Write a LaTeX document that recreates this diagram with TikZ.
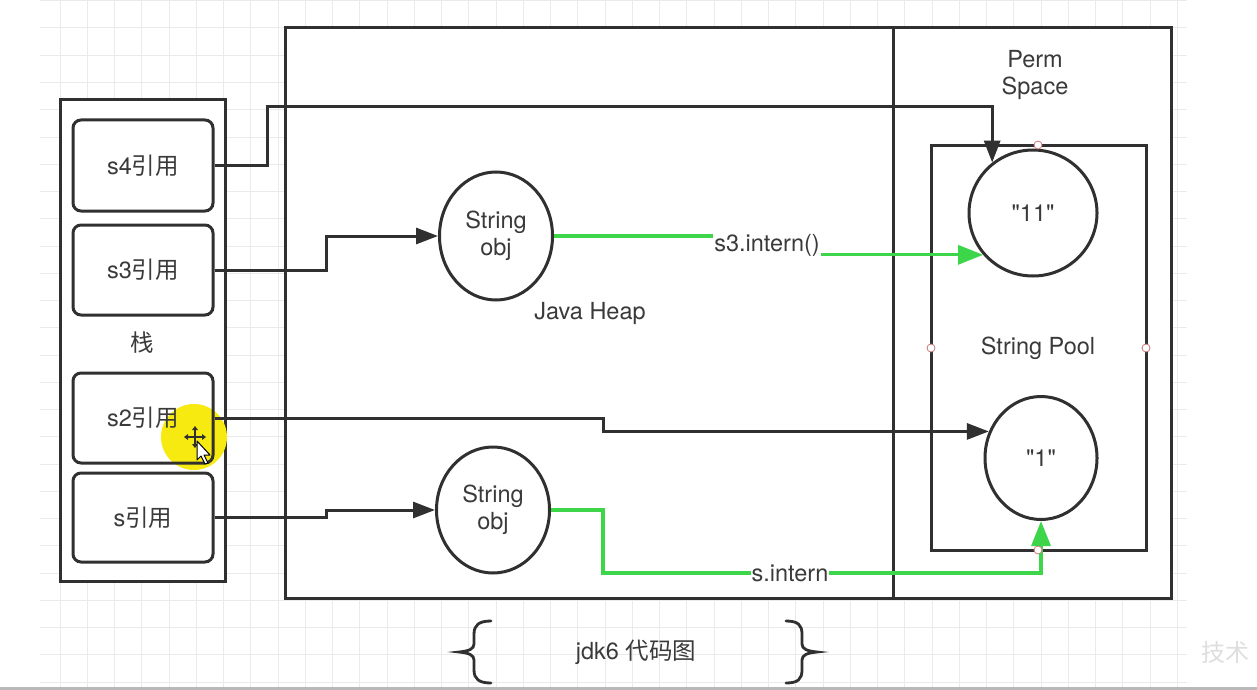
\documentclass[tikz,border=0pt]{standalone}
\usepackage{fontspec}
\setmainfont{TeX Gyre Heros}[Ligatures=TeXOff]
\newfontfamily\cjk{Noto Sans CJK SC}
\usetikzlibrary{arrows.meta,shapes.geometric,calc}
\definecolor{ink}{HTML}{303030}
\definecolor{txt}{HTML}{3A3A3A}
\definecolor{grn}{HTML}{3DD64A}
\definecolor{gridc}{HTML}{EAEAEA}
\definecolor{pinkc}{HTML}{C87878}
\definecolor{hl}{HTML}{F7EA10}
\newcommand\dfont{\fontsize{23.5}{27}\selectfont}
\begin{document}
\begin{tikzpicture}[x=1pt,y=-1pt,
  area/.style={draw=ink, line width=3pt, fill=white, inner sep=0pt},
  refbox/.style={draw=ink, line width=3pt, rounded corners=8pt, minimum width=140pt, minimum height=90pt, inner sep=0pt, font=\dfont, text=txt},
  blob/.style={ellipse, draw=ink, line width=3pt, inner sep=0pt, font=\dfont, text=txt, align=center},
  conn/.style={draw=ink, line width=3pt, -{Triangle[length=22pt,width=16pt]}},
  gconn/.style={draw=grn, line width=3.2pt, -{Triangle[length=25pt,width=19pt]}},
  glabel/.style={fill=white, inner sep=1pt, font=\dfont, text=txt},
  txtlbl/.style={font=\dfont, text=txt, align=center},
  port/.style={circle, draw=pinkc, fill=white, line width=0.8pt, minimum size=8pt, inner sep=0pt},
  brace/.style={draw=ink, line width=2.8pt, line cap=round}]
\useasboundingbox (0,0) rectangle (1257,690);
\fill[white] (0,0) rectangle (1257,690);
% grid
\foreach \k in {0,...,41} \draw[gridc, line width=1pt] ({60+27.25*\k},0) -- ({60+27.25*\k},687);
\foreach \k in {-1,...,24} \draw[gridc, line width=1pt] (40,{28+27.25*\k}) -- (1187,{28+27.25*\k});
\fill[gray!55] (0,687) rectangle (1257,690);

% containers
\node[area, minimum width=608pt, minimum height=570pt] (heap) at (589,313) {};
\node[area, minimum width=278pt, minimum height=570pt] (perm) at (1032,313) {};
\node[area, minimum width=165pt, minimum height=481pt] (stack) at (142.5,340.5) {};
\node[area, minimum width=215pt, minimum height=405pt] (pool) at (1038.5,347.5) {};

% highlight of the pointer
\fill[hl] (194,437) circle (33);

% stack references
\node[refbox, minimum height=91pt] (s4) at (143,165.5) {s4{\cjk 引用}};
\node[refbox] (s3) at (143,270) {s3{\cjk 引用}};
\node[refbox] (s2) at (143,418) {s2{\cjk 引用}};
\node[refbox, minimum height=89pt] (s) at (143,517.5) {s{\cjk 引用}};
\node[txtlbl] (stk) at (142,343) {\cjk 栈};

% objects
\node[blob, minimum width=113pt, minimum height=128pt] (obj1) at (496,236) {String\\obj};
\node[blob, minimum width=113pt, minimum height=126pt] (obj2) at (493,510) {String\\obj};
\node[blob, minimum width=128pt, minimum height=126pt] (c11) at (1033,213) {"11"};
\node[blob, minimum width=112pt, minimum height=123pt] (c1) at (1041,458) {"1"};

\node[txtlbl] (jh) at (590,313) {Java Heap};
\node[txtlbl] (ps) at (1035,75) {Perm\\Space};
\node[txtlbl] (sp) at (1038,348) {String Pool};

% black connectors
\draw[conn] (s4.east) -- (267,165.5) -- (267,107) -| (c11.129);
\draw[conn] (s3.east) -- (326,270) |- (obj1.west);
\draw[conn] (s2.east) -- (603,418) |- (c1.153);
\draw[conn] (s.east) -- (326,517.5) |- (obj2.west);

% green connectors
\draw[gconn] (obj1.east) -- (767,236) |- (c11.220);
\node[glabel] (l1) at (767,245) {s3.intern()};
\draw[gconn] (obj2.east) -- (603,510) -- (603,573) -| (c1.south);
\node[glabel] (l2) at (790,573) {s.intern};

% ports on the pool
\node[port] (p1) at (1038,145) {};
\node[port] (p2) at (931,348) {};
\node[port] (p3) at (1146,348) {};
\node[port] (p4) at (1038,550) {};

% pointer
\draw[ink, line width=1.4pt] (186,437) -- (204,437) (195,428) -- (195,446);
\fill[ink] (184,437) -- (188,434) -- (188,440) -- cycle (206,437) -- (202,434) -- (202,440) -- cycle
  (195,426) -- (192,430) -- (198,430) -- cycle (195,448) -- (192,444) -- (198,444) -- cycle;
\draw[black, fill=white, line width=1pt, line join=round] (197,441) -- (197,460) -- (201,456) -- (205,464) -- (208,463) -- (204,455) -- (210,455) -- cycle;

% caption
\draw[brace] (491,621) .. controls (479,621) and (474,625) .. (474,634) -- (474,644) .. controls (474,649) and (469,651) .. (459,652) .. controls (469,653) and (474,655) .. (474,660) -- (474,670) .. controls (474,679) and (479,683) .. (491,683);
\draw[brace] (786,621) .. controls (798,621) and (802,625) .. (802,634) -- (802,644) .. controls (802,649) and (807,651) .. (817,652) .. controls (807,653) and (802,655) .. (802,660) -- (802,670) .. controls (802,679) and (798,683) .. (786,683);
\node[txtlbl] (cap) at (636,652) {jdk6 {\cjk 代码图}};
\node[font=\fontsize{24}{28}\selectfont\cjk, text=black!13] (wm) at (1225,652) {技术};
\end{tikzpicture}
\end{document}
